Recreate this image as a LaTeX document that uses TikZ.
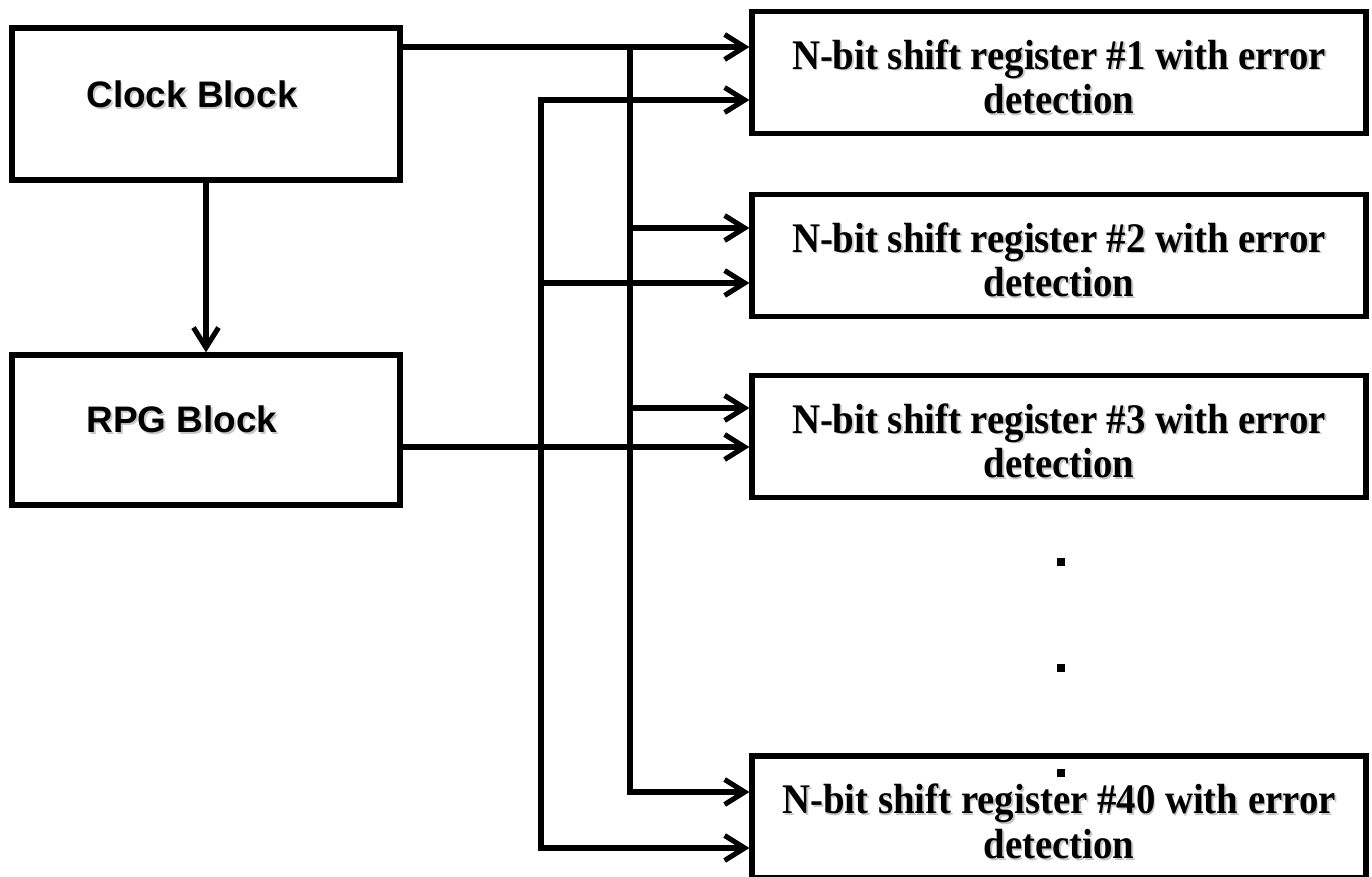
\documentclass[tikz,border=0pt]{standalone}
\usepackage{fontspec}
\setmainfont[FakeStretch=0.92]{Liberation Serif}
\newfontfamily\arialfont{Liberation Sans}
\usetikzlibrary{arrows.meta}
\newcommand{\shd}[1]{\makebox[0pt][l]{\kern1pt\raisebox{-1pt}{\textcolor{black!22}{#1}}}#1}

\begin{document}
\begin{tikzpicture}[x=0.02cm, y=-0.02cm,
  >={Straight Barb[length=0.4cm, width=0.5cm]},
  block/.style={draw, line width=3pt, minimum width=7.76cm, minimum height=3.04cm},
  blocklabel/.style={font=\arialfont\bfseries\fontsize{21}{25}\selectfont},
  reg/.style={draw, line width=3pt, minimum width=12.28cm, minimum height=2.44cm,
    align=center, text height=51.4pt, text depth=4.3pt,
    font=\bfseries\fontsize{24}{25.5}\selectfont},
  conn/.style={line width=2.9pt, ->}]
  \useasboundingbox (0,0) rectangle (1372,876);
  % Left: clock and RPG
  \node[block] (clk) at (206,104) {};
  \node[blocklabel] (clklbl) at ([shift={(-14,-9)}]clk.center) {\shd{Clock Block}};
  \node[block, minimum height=3.0cm] (rpg) at (206,430) {};
  \node[blocklabel] (rpglbl) at ([shift={(-24,-10)}]rpg.center) {\shd{RPG Block}};
  \draw[conn] (clk) -- (rpg);
  % Right: shift registers
  \node[reg] (reg1) at (1059,72.5) {\shd{N-bit shift register \#1 with error}\\\shd{detection}};
  \node[reg] (reg2) at (1059,255.5) {\shd{N-bit shift register \#2 with error}\\\shd{detection}};
  \node[reg] (reg3) at (1059,436.5) {\shd{N-bit shift register \#3 with error}\\\shd{detection}};
  \node[reg] (reg40) at (1059,817) {\shd{N-bit shift register \#40 with error}\\\shd{detection}};
  \foreach \y in {562,668,773} \fill (1061,\y) ++(-4,-4) rectangle ++(8,8);
  % clock bus
  \coordinate (ctop) at (630,47);
  \coordinate (cbot) at (630,792);
  \draw[conn] (clk.east |- ctop) -- (reg1.west |- ctop);
  \draw[conn] (ctop) -- (cbot) -- (reg40.west |- cbot);
  \foreach \n/\y in {reg2/228, reg3/408} \draw[conn] (ctop |- 0,\y) -- (\n.west |- 0,\y);
  % RPG bus
  \coordinate (rtop) at (541,100);
  \coordinate (rbot) at (541,848);
  \draw[conn] (rpg.east |- 0,447) -- (reg3.west |- 0,447);
  \draw[conn, <->] (reg1.west |- rtop) -- (rtop) -- (rbot) -- (reg40.west |- rbot);
  \draw[conn] (rtop |- 0,283) -- (reg2.west |- 0,283);
\end{tikzpicture}
\end{document}
